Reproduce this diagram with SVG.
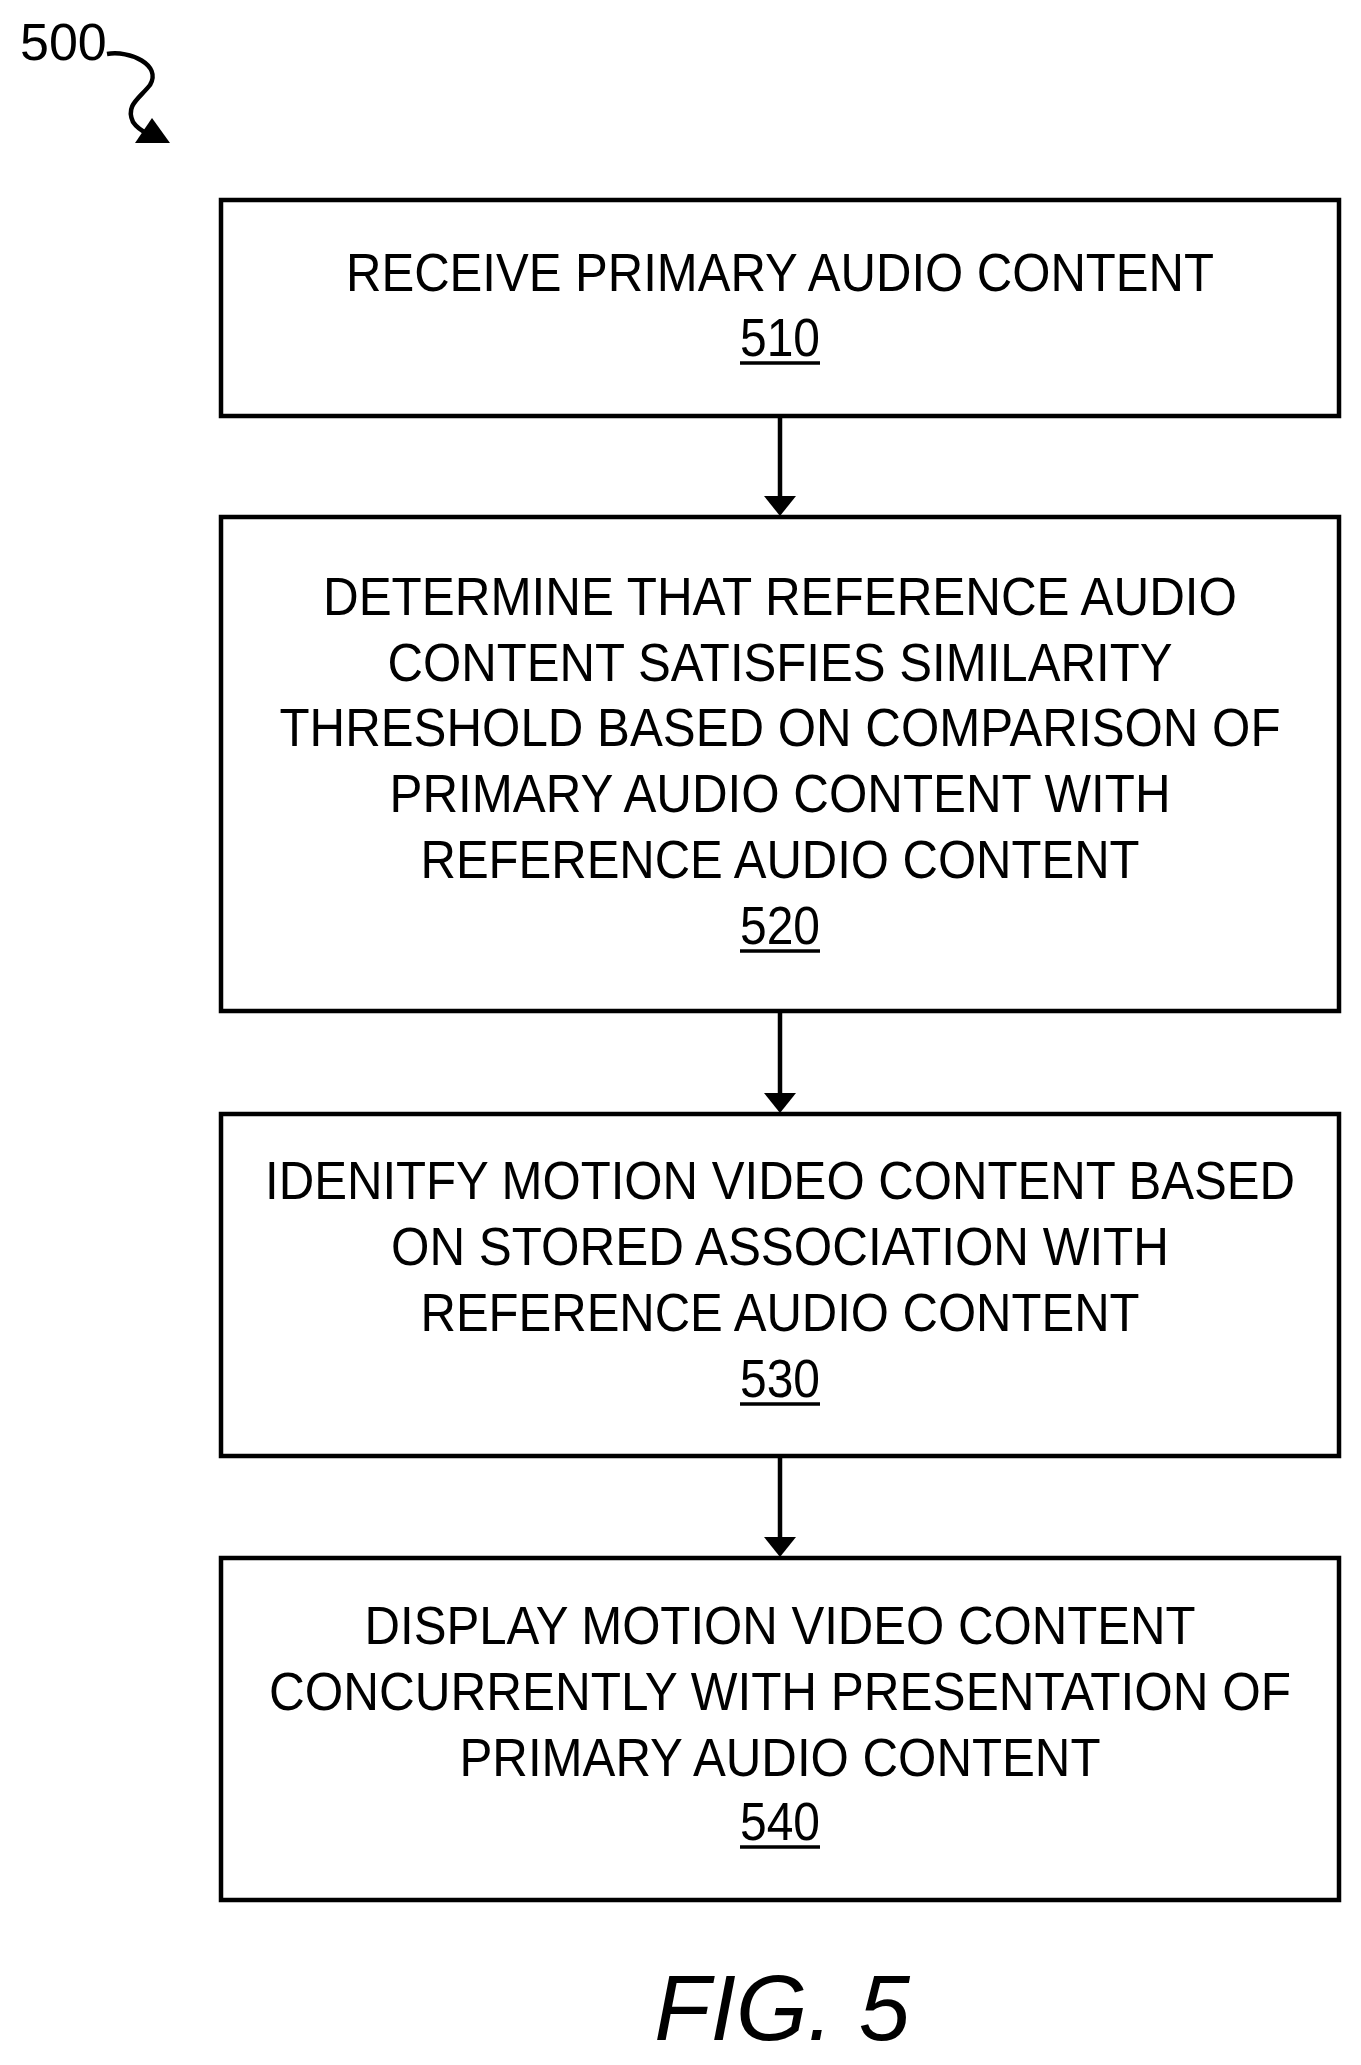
<svg xmlns="http://www.w3.org/2000/svg" width="1361" height="2065" viewBox="0 0 1361 2065">
<style>
.box{fill:#fff;stroke:#000;stroke-width:4.5}
.t{font-family:"Liberation Sans",Arial,sans-serif;font-size:54px;text-anchor:middle;fill:#000}
.u{stroke:#000;stroke-width:3.5}
.c{stroke:#000;stroke-width:4.5;fill:none}
</style>
<rect width="1361" height="2065" fill="#fff"/>
<g id="label500">
<text x="20" y="60" font-family="Liberation Sans,Arial,sans-serif" font-size="52">500</text>
<path class="c" d="M107,54 C130,50 162,65 150,85 C140,98 125,105 133,122 C137,128 142,131 148,134"/>
<polygon points="135,143 170,143 152,118" fill="#000"/>
</g>
<g id="n510" transform="translate(0,-3)">
<rect class="box" x="221" y="203" width="1118" height="216"/>
<text class="t" x="780" y="294" textLength="868" lengthAdjust="spacingAndGlyphs">RECEIVE PRIMARY AUDIO CONTENT</text>
<text class="t" x="780" y="359" textLength="80" lengthAdjust="spacingAndGlyphs">510</text>
<line class="u" x1="740" y1="366" x2="820" y2="366"/>
</g>
<g id="n520" transform="translate(0,-3)">
<rect class="box" x="221" y="520" width="1118" height="494"/>
<text class="t" x="780" y="618" textLength="914" lengthAdjust="spacingAndGlyphs">DETERMINE THAT REFERENCE AUDIO</text>
<text class="t" x="780" y="684" textLength="785" lengthAdjust="spacingAndGlyphs">CONTENT SATISFIES SIMILARITY</text>
<text class="t" x="780" y="749" textLength="1001" lengthAdjust="spacingAndGlyphs">THRESHOLD BASED ON COMPARISON OF</text>
<text class="t" x="780" y="815" textLength="781" lengthAdjust="spacingAndGlyphs">PRIMARY AUDIO CONTENT WITH</text>
<text class="t" x="780" y="881" textLength="719" lengthAdjust="spacingAndGlyphs">REFERENCE AUDIO CONTENT</text>
<text class="t" x="780" y="947" textLength="80" lengthAdjust="spacingAndGlyphs">520</text>
<line class="u" x1="740" y1="954" x2="820" y2="954"/>
</g>
<g id="n530" transform="translate(0,-3)">
<rect class="box" x="221" y="1117" width="1118" height="342"/>
<text class="t" x="780" y="1202" textLength="1030" lengthAdjust="spacingAndGlyphs">IDENITFY MOTION VIDEO CONTENT BASED</text>
<text class="t" x="780" y="1268" textLength="778" lengthAdjust="spacingAndGlyphs">ON STORED ASSOCIATION WITH</text>
<text class="t" x="780" y="1334" textLength="719" lengthAdjust="spacingAndGlyphs">REFERENCE AUDIO CONTENT</text>
<text class="t" x="780" y="1400" textLength="80" lengthAdjust="spacingAndGlyphs">530</text>
<line class="u" x1="740" y1="1407" x2="820" y2="1407"/>
</g>
<g id="n540" transform="translate(0,-3)">
<rect class="box" x="221" y="1561" width="1118" height="342"/>
<text class="t" x="780" y="1647" textLength="831" lengthAdjust="spacingAndGlyphs">DISPLAY MOTION VIDEO CONTENT</text>
<text class="t" x="780" y="1713" textLength="1022" lengthAdjust="spacingAndGlyphs">CONCURRENTLY WITH PRESENTATION OF</text>
<text class="t" x="780" y="1779" textLength="641" lengthAdjust="spacingAndGlyphs">PRIMARY AUDIO CONTENT</text>
<text class="t" x="780" y="1843" textLength="80" lengthAdjust="spacingAndGlyphs">540</text>
<line class="u" x1="740" y1="1850" x2="820" y2="1850"/>
</g>
<g id="connectors" fill="#000">
<line class="c" x1="780" y1="418" x2="780" y2="500"/><polygon points="764,496 796,496 780,516"/>
<line class="c" x1="780" y1="1013" x2="780" y2="1097"/><polygon points="764,1093 796,1093 780,1113"/>
<line class="c" x1="780" y1="1458" x2="780" y2="1541"/><polygon points="764,1537 796,1537 780,1557"/>
</g>
<text x="782" y="2040" font-family="Liberation Sans,Arial,sans-serif" font-size="92" font-style="italic" text-anchor="middle">FIG. 5</text>
</svg>
